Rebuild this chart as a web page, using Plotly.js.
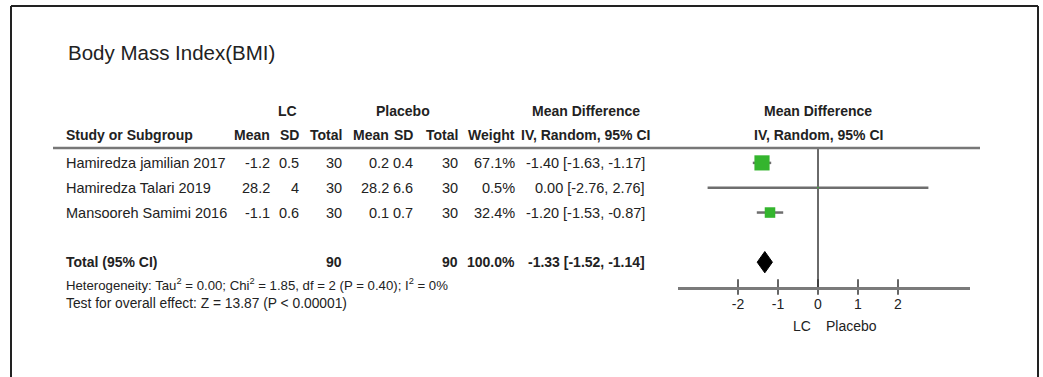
<!DOCTYPE html>
<html>
<head>
<meta charset="utf-8">
<script src="https://cdn.plot.ly/plotly-3.0.1.min.js"></script>
<style>html,body{margin:0;padding:0;background:#fff;}#chart{width:1043px;height:377px;}</style>
</head>
<body>
<div id="chart"></div>
<script>
// ---- data ----
var studies = ['Hamiredza jamilian 2017', 'Hamiredza Talari 2019', 'Mansooreh Samimi 2016'];
var lcMean = [-1.2, 28.2, -1.1];
var lcSD = [0.5, 4, 0.6];
var lcTotal = [30, 30, 30];
var plMean = [0.2, 28.2, 0.1];
var plSD = [0.4, 6.6, 0.7];
var plTotal = [30, 30, 30];
var weights = [67.1, 0.5, 32.4];
var mdValues = [-1.40, 0.00, -1.20];
var ciLow = [-1.63, -2.76, -1.53];
var ciHigh = [-1.17, 2.76, -0.87];
var totalLabel = 'Total (95% CI)';
var totalLC = 90, totalPL = 90, totalWeight = 100.0;
var totalMD = -1.33, totalLow = -1.52, totalHigh = -1.14;
var tickValues = [-2, -1, 0, 1, 2];
var heterogeneityText = 'Heterogeneity: Tau<sup>2</sup> = 0.00; Chi<sup>2</sup> = 1.85, df = 2 (P = 0.40); I<sup>2</sup> = 0%';
var overallText = 'Test for overall effect: Z = 13.87 (P < 0.00001)';
var chartTitle = 'Body Mass Index(BMI)';

// ---- layout helpers ----
var W = 1043, H = 377;
var FONT = 'Liberation Sans, Arial, sans-serif';
var TXT = '#222';
function px(x) { return x / W; }
function py(y) { return 1 - y / H; }
var totalRow = 4;
var ROWSIZE = 14.5, HEADSIZE = 14;

var ann = [];
function addText(text, x, y, anchor, opts) {
  opts = opts || {};
  ann.push({
    text: text, xref: 'paper', x: px(x), xanchor: anchor,
    yref: opts.yref || 'paper', y: opts.yref === 'y' ? y : py(y), yanchor: 'middle',
    showarrow: false,
    font: {family: FONT, size: opts.size || ROWSIZE, color: opts.color || TXT}
  });
}
function b(t) { return '<b>' + t + '</b>'; }
function fmtCI(m, l, h) { return m.toFixed(2) + ' [' + l.toFixed(2) + ', ' + h.toFixed(2) + ']'; }

var hs = {size: HEADSIZE};
// title
addText(chartTitle, 66, 52, 'left', {size: 20.5});
// group headers
addText(b('LC'), 287, 111, 'center', hs);
addText(b('Placebo'), 403, 111, 'center', hs);
addText(b('Mean Difference'), 586, 111, 'center', hs);
addText(b('Mean Difference'), 818, 111, 'center', hs);
// column headers
var colRight = {lcMean: 272, lcSD: 301, lcN: 344, plMean: 391, plSD: 415, plN: 460, w: 517, ci: 647};
addText(b('Study or Subgroup'), 64, 135, 'left', hs);
addText(b('Mean'), colRight.lcMean, 135, 'right', hs);
addText(b('SD'), colRight.lcSD, 135, 'right', hs);
addText(b('Total'), colRight.lcN, 135, 'right', hs);
addText(b('Mean'), colRight.plMean, 135, 'right', hs);
addText(b('SD'), colRight.plSD, 135, 'right', hs);
addText(b('Total'), colRight.plN, 135, 'right', hs);
addText(b('Weight'), colRight.w, 135, 'right', hs);
addText(b('IV, Random, 95% CI'), 585, 135, 'center', hs);
addText(b('IV, Random, 95% CI'), 818, 135, 'center', hs);

// study rows
for (var i = 0; i < studies.length; i++) {
  var o = {yref: 'y'};
  addText(studies[i], 64, i, 'left', o);
  addText(String(lcMean[i]), colRight.lcMean, i, 'right', o);
  addText(String(lcSD[i]), colRight.lcSD, i, 'right', o);
  addText(String(lcTotal[i]), colRight.lcN, i, 'right', o);
  addText(String(plMean[i]), colRight.plMean, i, 'right', o);
  addText(String(plSD[i]), colRight.plSD, i, 'right', o);
  addText(String(plTotal[i]), colRight.plN, i, 'right', o);
  addText(weights[i].toFixed(1) + '%', colRight.w, i, 'right', o);
  addText(fmtCI(mdValues[i], ciLow[i], ciHigh[i]), colRight.ci, i, 'right', o);
}
// total row
var ot = {yref: 'y', size: HEADSIZE};
addText(b(totalLabel), 64, totalRow, 'left', ot);
addText(b(String(totalLC)), colRight.lcN, totalRow, 'right', ot);
addText(b(String(totalPL)), colRight.plN, totalRow, 'right', ot);
addText(b(totalWeight.toFixed(1) + '%'), colRight.w, totalRow, 'right', ot);
addText(b(fmtCI(totalMD, totalLow, totalHigh)), colRight.ci, totalRow, 'right', ot);
// footer texts
addText(heterogeneityText, 64, 284, 'left', {size: 13.2});
addText(overallText, 64, 303, 'left', {size: 13.8});
// favours labels
addText('LC', 813, 326, 'right', {size: 14});
addText('Placebo', 824, 326, 'left', {size: 14});

// ---- traces ----
var green = '#34b52e';
var traces = [];
// CI lines for studies
traces.push({
  type: 'scatter', mode: 'markers', x: mdValues, y: [0, 1, 2],
  marker: {symbol: 'square', size: 1, color: 'rgba(0,0,0,0)'},
  error_x: {type: 'data', symmetric: false,
    array: mdValues.map(function (m, k) { return ciHigh[k] - m; }),
    arrayminus: mdValues.map(function (m, k) { return m - ciLow[k]; }),
    color: '#6e6e6e', thickness: 2.5, width: 0},
  hoverinfo: 'skip', showlegend: false, cliponaxis: false
});
// weight squares
traces.push({
  type: 'scatter', mode: 'markers', x: mdValues, y: [0, 1, 2],
  marker: {symbol: 'square', color: green, opacity: 1,
    size: weights.map(function (w) { return 1.85 * Math.sqrt(w); }),
    line: {width: 0}},
  hoverinfo: 'skip', showlegend: false, cliponaxis: false
});
// pooled diamond
var dh = 0.43;
traces.push({
  type: 'scatter', mode: 'lines', fill: 'toself', fillcolor: '#000',
  x: [totalLow, totalMD, totalHigh, totalMD, totalLow],
  y: [totalRow, totalRow - dh, totalRow, totalRow + dh, totalRow],
  line: {color: '#000', width: 1},
  hoverinfo: 'skip', showlegend: false
});
// tick marks crossing the axis line
traces.push({
  type: 'scatter', mode: 'markers', x: tickValues, y: tickValues.map(function () { return 5; }),
  marker: {symbol: 'line-ns', size: 11, opacity: 1, line: {color: '#333', width: 1.5}},
  hoverinfo: 'skip', showlegend: false, cliponaxis: false
});

var layout = {
  width: W, height: H,
  margin: {l: 0, r: 0, t: 0, b: 0, pad: 0},
  paper_bgcolor: '#fff', plot_bgcolor: '#fff',
  showlegend: false,
  font: {family: FONT, color: TXT},
  xaxis: {
    domain: [px(678), px(970)], range: [-3.5, 3.8], fixedrange: true,
    showgrid: false, zeroline: true, zerolinecolor: '#6a6a6a', zerolinewidth: 2,
    showline: true, linecolor: '#7a7a7a', linewidth: 3,
    tickmode: 'array', tickvals: tickValues, ticktext: tickValues.map(String),
    ticks: '', ticklabelstandoff: 2,
    tickfont: {family: FONT, size: 14, color: TXT}
  },
  yaxis: {
    domain: [py(287), py(148)], range: [5, -0.6], fixedrange: true,
    visible: false, showgrid: false, zeroline: false
  },
  annotations: ann,
  shapes: [
    // header rule
    {type: 'line', xref: 'paper', yref: 'paper', x0: px(53), x1: px(980), y0: py(148), y1: py(148),
     line: {color: '#777', width: 2.5}},
    // frame (left, top, right)
    {type: 'line', xref: 'paper', yref: 'paper', x0: px(11), x1: px(11), y0: py(6), y1: 0,
     line: {color: '#222', width: 2}},
    {type: 'line', xref: 'paper', yref: 'paper', x0: px(11), x1: px(1038), y0: py(6), y1: py(6),
     line: {color: '#222', width: 2}},
    {type: 'line', xref: 'paper', yref: 'paper', x0: px(1038), x1: px(1038), y0: py(6), y1: 0,
     line: {color: '#222', width: 2}}
  ]
};

Plotly.newPlot('chart', traces, layout, {staticPlot: true, displayModeBar: false});
</script>
</body>
</html>
